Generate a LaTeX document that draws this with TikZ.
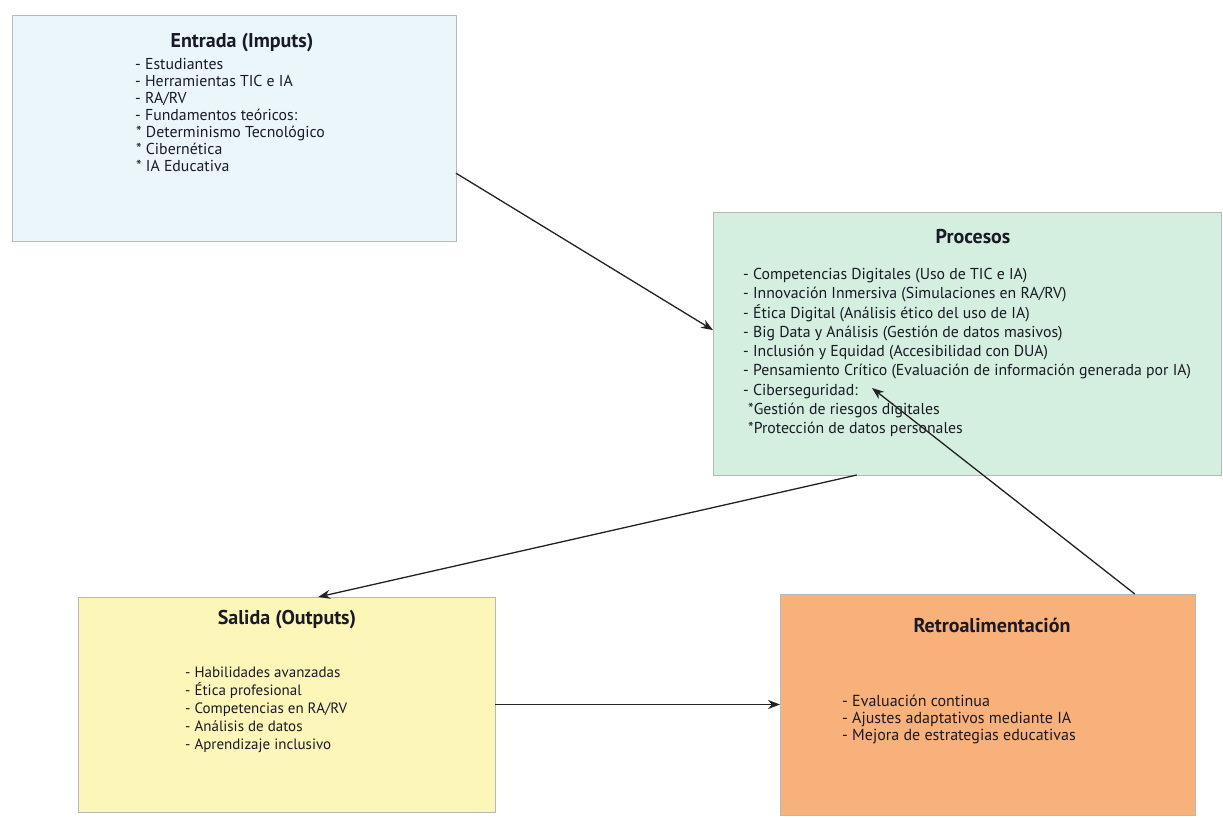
\documentclass[tikz,border=0pt]{standalone}
\usepackage{fontspec}
\setmainfont{PT Sans}
\usetikzlibrary{arrows.meta,calc}
\definecolor{entradafill}{HTML}{EBF6FA}
\definecolor{procesosfill}{HTML}{D4EEDF}
\definecolor{salidafill}{HTML}{FCF6B9}
\definecolor{retrofill}{HTML}{F9B17C}
\definecolor{boxline}{HTML}{B8B8B8}
\definecolor{ink}{HTML}{1A1A26}
\definecolor{arrowink}{HTML}{222222}
\begin{document}
\begin{tikzpicture}[x=1pt,y=-1pt,
  box/.style={draw=boxline,line width=0.8pt,inner sep=0pt,outer sep=0pt},
  boxtitle/.style={font=\fontsize{20}{23}\selectfont\bfseries,text=ink,inner sep=0pt},
  boxbody/.style={align=left,anchor=north west,inner sep=0pt,text=ink},
  conn/.style={draw=arrowink,line width=1.3pt,-{Stealth[length=12pt,width=9pt]}}]
\useasboundingbox (0,0) rectangle (1223,817);
\fill[white] (0,0) rectangle (1223,817);
% boxes
\node[box,fill=entradafill,minimum width=444pt,minimum height=226pt] (entrada) at (234,128) {};
\node[box,fill=procesosfill,minimum width=508pt,minimum height=263pt] (procesos) at (967,343.5) {};
\node[box,fill=salidafill,minimum width=417pt,minimum height=215pt] (salida) at (286.5,704.5) {};
\node[box,fill=retrofill,minimum width=415pt,minimum height=221pt] (retro) at (987.5,704.5) {};
% titles
\node[boxtitle] (entradaT) at (242,43) {Entrada (Imputs)};
\node[boxtitle] (procesosT) at (973,237) {Procesos};
\node[boxtitle] (salidaT) at (287,620) {Salida (Outputs)};
\node[boxtitle] (retroT) at (992,625) {Retroalimentación};
% bodies
\node[boxbody,font=\fontsize{15.8}{17}\selectfont] (entradaB) at (135,58) {- Estudiantes\\- Herramientas TIC e IA\\- RA/RV\\- Fundamentos teóricos:\\\hspace*{1pt}* Determinismo Tecnológico\\\hspace*{1pt}* Cibernética\\\hspace*{1pt}* IA Educativa};
\node[boxbody,font=\fontsize{15.8}{19.3}\selectfont] (procesosB) at (743,268) {- Competencias Digitales (Uso de TIC e IA)\\- Innovación Inmersiva (Simulaciones en RA/RV)\\- Ética Digital (Análisis ético del uso de IA)\\- Big Data y Análisis (Gestión de datos masivos)\\- Inclusión y Equidad (Accesibilidad con DUA)\\- Pensamiento Crítico (Evaluación de información generada por IA)\\- Ciberseguridad:\\\hspace*{5pt}*Gestión de riesgos digitales\\\hspace*{5pt}*Protección de datos personales};
\node[boxbody,font=\fontsize{15}{18}\selectfont] (salidaB) at (185,667) {- Habilidades avanzadas\\- Ética profesional\\- Competencias en RA/RV\\- Análisis de datos\\- Aprendizaje inclusivo};
\node[boxbody,font=\fontsize{16}{17}\selectfont] (retroB) at (842,695) {- Evaluación continua\\- Ajustes adaptativos mediante IA\\- Mejora de estrategias educativas};
% connectors
\coordinate (fbtip) at (872,388);
\draw[conn] ($(entrada.north east)!0.70!(entrada.south east)$) -- ($(procesos.north west)!0.449!(procesos.south west)$);
\draw[conn] ($(procesos.south west)!0.283!(procesos.south east)$) -- ($(salida.north west)!0.576!(salida.north east)$);
\draw[conn] (salida.east) -- (retro.west);
\draw[conn] ($(retro.north west)!0.855!(retro.north east)$) -- (fbtip);
\end{tikzpicture}
\end{document}
